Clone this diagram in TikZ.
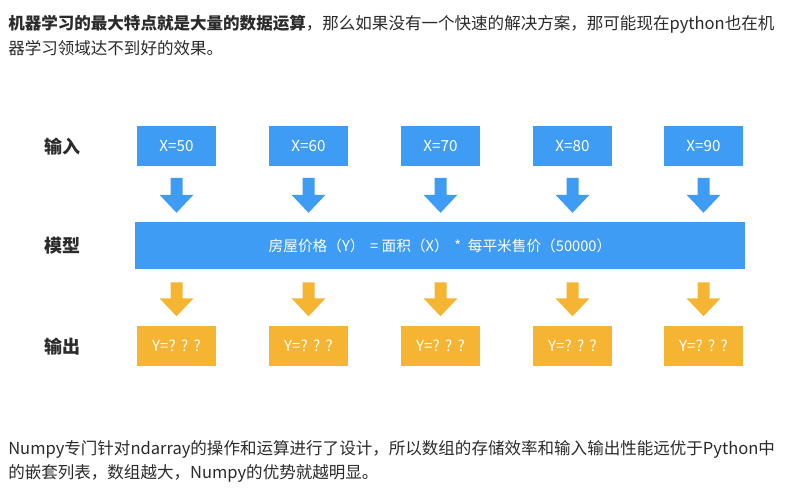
\documentclass[tikz,border=0pt]{standalone}
\usepackage{fontspec}
\setmainfont{Noto Sans CJK SC}
\usetikzlibrary{calc}
\definecolor{boxblue}{HTML}{3E9CF4}
\definecolor{boxorange}{HTML}{F5B532}
\definecolor{txt}{HTML}{2B2B2B}
\tikzset{
  inbox/.style={fill=boxblue, text=white, minimum width=59.25pt, minimum height=30pt, inner sep=0pt, font=\fontsize{11.4pt}{13pt}\selectfont},
  outbox/.style={fill=boxorange, text=white, minimum width=59.25pt, minimum height=30pt, inner sep=0pt, font=\fontsize{11.4pt}{13pt}\selectfont},
  rowlabel/.style={text=txt, font=\fontsize{13.5pt}{15pt}\selectfont\bfseries, inner sep=0pt},
  para/.style={text=txt, anchor=base west, inner sep=0pt, font=\fontsize{12.4pt}{15pt}\selectfont},
}
\begin{document}
\begin{tikzpicture}[x=0.75pt, y=-0.75pt]
\useasboundingbox[fill=white] (0,0) rectangle (790,491);
% top paragraph
\node[para] (t1) at (8,30) {\textbf{机器学习的最大特点就是大量的数据运算}，那么如果没有一个快速的解决方案，那可能现在python也在机};
\node[para] (t2) at (8,55) {器学习领域达不到好的效果。};
% row labels
\node[rowlabel] (lin) at (62,147) {输入};
\node[rowlabel] (lmod) at (62,246) {模型};
\node[rowlabel] (lout) at (62,347) {输出};
% model bar
\node[fill=boxblue, text=white, minimum width=457.5pt, minimum height=35.25pt, inner sep=0pt,
      font=\fontsize{11pt}{13pt}\selectfont] (model) at (440,245.5)
  {房屋价格（Y）\ \,=\ 面积（X）\ \,*\ \ 每平米售价（50000）};
% input / output boxes and arrows
\foreach \i/\x/\v in {1/176.5/50, 2/308.5/60, 3/440.5/70, 4/572.5/80, 5/703.5/90} {
  \node[inbox] (in\i) at (\x,146.5) {X=\v};
  \node[outbox] (out\i) at (\x,346) {Y=?\hspace{4pt}?\hspace{4pt}?\hspace{2pt}};
  \coordinate (ba\i) at ($(in\i.south)+(0,11)$);
  \coordinate (oa\i) at ($(model.south -| out\i)+(0,13)$);
  \fill[boxblue] (ba\i) ++(-6,0) -- ++(12,0) -- ++(0,17) -- ++(11,0) -- ++(-17,18) -- ++(-17,-18) -- ++(11,0) -- cycle;
  \fill[boxorange] (oa\i) ++(-6,0) -- ++(12,0) -- ++(0,16) -- ++(11,0) -- ++(-17,18) -- ++(-17,-18) -- ++(11,0) -- cycle;
}
% bottom paragraph
\node[para] (b1) at (8,455) {Numpy专门针对ndarray的操作和运算进行了设计，所以数组的存储效率和输入输出性能远优于Python中};
\node[para] (b2) at (8,479) {的嵌套列表，数组越大，Numpy的优势就越明显。};
\end{tikzpicture}
\end{document}
